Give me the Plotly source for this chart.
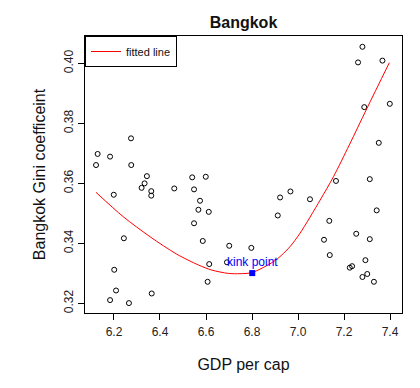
import plotly.graph_objects as go

# Observed data (GDP per cap, Gini)
gdp = [6.274, 6.129, 6.183, 6.122, 6.275, 6.343, 6.333, 6.320, 6.362, 6.362,
       6.199, 6.462, 6.540, 6.599, 6.548, 6.574, 6.567, 6.612, 6.548, 6.243,
       6.586, 6.701, 6.691, 6.614, 6.201, 6.607, 6.209, 6.364, 6.183, 6.265,
       7.165, 7.312, 6.967, 6.922, 7.052, 7.342, 6.912, 7.136, 7.253, 7.312,
       7.113, 6.797, 7.138, 7.293, 7.235, 7.225, 7.301, 7.280, 7.330,
       7.280, 7.261, 7.367, 7.288, 7.399, 7.351]
gini = [0.3750, 0.3698, 0.3689, 0.3661, 0.3661, 0.3624, 0.3600, 0.3585, 0.3574, 0.3559,
        0.3562, 0.3583, 0.3620, 0.3622, 0.3580, 0.3542, 0.3512, 0.3505, 0.3467, 0.3417,
        0.3408, 0.3392, 0.3337, 0.3331, 0.3312, 0.3272, 0.3243, 0.3233, 0.3211, 0.3201,
        0.3608, 0.3614, 0.3573, 0.3553, 0.3547, 0.3510, 0.3493, 0.3475, 0.3432, 0.3414,
        0.3412, 0.3385, 0.3361, 0.3344, 0.3324, 0.3319, 0.3298, 0.3288, 0.3272,
        0.4055, 0.4003, 0.4009, 0.3854, 0.3865, 0.3735]

# Fitted line
fit_x = [6.122, 6.240, 6.357, 6.473, 6.567, 6.625, 6.697, 6.748, 6.801, 6.893,
         6.929, 6.965, 7.009, 7.096, 7.154, 7.223, 7.299, 7.397]
fit_y = [0.3570, 0.3489, 0.3422, 0.3364, 0.3328, 0.3311, 0.3300, 0.3299, 0.3303, 0.3339,
         0.3361, 0.3389, 0.3434, 0.3544, 0.3622, 0.3728, 0.3849, 0.4002]

kink_x = [6.801]
kink_y = [0.3301]
kink_label = "kink point"

x_ticks = [6.2, 6.4, 6.6, 6.8, 7.0, 7.2, 7.4]
x_ticktext = ["6.2", "6.4", "6.6", "6.8", "7.0", "7.2", "7.4"]
y_ticks = [0.32, 0.34, 0.36, 0.38, 0.40]
y_ticktext = ["0.32", "0.34", "0.36", "0.38", "0.40"]

FONT = "Liberation Sans, Arial, sans-serif"

fig = go.Figure()
fig.add_trace(go.Scatter(
    x=gdp, y=gini, mode="markers", showlegend=False,
    marker=dict(symbol="circle-open", size=5, color="black", line=dict(width=1, color="black")),
))
fig.add_trace(go.Scatter(
    x=fit_x, y=fit_y, mode="lines", name="fitted line",
    line=dict(color="red", width=1, shape="spline", smoothing=0.8),
))
fig.add_trace(go.Scatter(
    x=kink_x, y=kink_y, mode="markers", showlegend=False,
    marker=dict(symbol="square", size=6, color="blue"),
))
fig.add_annotation(
    x=kink_x[0], y=kink_y[0], text=kink_label, showarrow=False,
    yshift=11, font=dict(family=FONT, size=12, color="blue"),
)

axis_common = dict(
    showgrid=False, zeroline=False, showline=True, linecolor="black", linewidth=1,
    mirror=True, ticks="outside", ticklen=6, tickcolor="black", tickwidth=1,
    automargin=False,
    tickfont=dict(family=FONT, size=12, color="#222"),
)
fig.update_xaxes(
    range=[6.074, 7.452], tickvals=x_ticks, ticktext=x_ticktext, ticklabelstandoff=2,
    title=dict(text="GDP per cap", font=dict(family=FONT, size=16, color="#111"), standoff=20),
    **axis_common,
)
fig.update_yaxes(
    range=[0.3168, 0.4091], tickvals=y_ticks, ticktext=y_ticktext, tickangle=-90,
    title=dict(text="Bangkok Gini coefficeint", font=dict(family=FONT, size=16, color="#111"), standoff=12),
    **axis_common,
)

fig.update_layout(
    width=420, height=388,
    margin=dict(l=85, r=18, t=36, b=75),
    paper_bgcolor="white", plot_bgcolor="white",
    title=dict(text="<b>Bangkok</b>", x=(85 + 402) / 2 / 420, xanchor="center",
               y=1 - 22.5 / 388, yanchor="middle",
               font=dict(family=FONT, size=16, color="#111")),
    legend=dict(x=0, y=1, xanchor="left", yanchor="top", bordercolor="black", borderwidth=1,
                bgcolor="white", font=dict(family=FONT, size=11, color="#111"),
                itemwidth=30),
    showlegend=True,
)

fig.write_html("out.html", config={"displayModeBar": False},
               post_script="document.body.style.margin='0';document.body.style.padding='0';")
